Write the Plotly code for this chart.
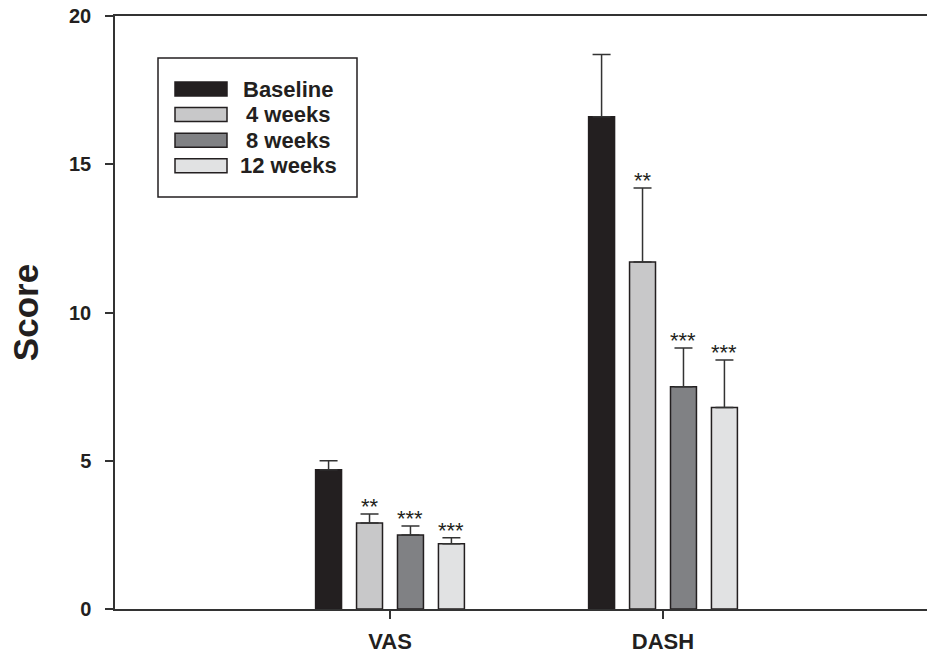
import plotly.graph_objects as go

categories = ["VAS", "DASH"]
series_names = ["Baseline", "4 weeks", "8 weeks", "12 weeks"]
baseline = [4.7, 16.6]
weeks4 = [2.9, 11.7]
weeks8 = [2.5, 7.5]
weeks12 = [2.2, 6.8]
err_baseline = [0.3, 2.1]
err_weeks4 = [0.3, 2.5]
err_weeks8 = [0.3, 1.3]
err_weeks12 = [0.2, 1.6]
signif_weeks4 = ["**", "**"]
signif_weeks8 = ["***", "***"]
signif_weeks12 = ["***", "***"]
y_ticks = [0, 5, 10, 15, 20]

colors = ["#231f20", "#c8c8c9", "#808184", "#e1e2e3"]
edge = "#231f20"
values = [baseline, weeks4, weeks8, weeks12]
errors = [err_baseline, err_weeks4, err_weeks8, err_weeks12]
signifs = [None, signif_weeks4, signif_weeks8, signif_weeks12]
FONT = "Liberation Sans, Arial, Helvetica, sans-serif"

fig = go.Figure()
for name, vals, errs, col in zip(series_names, values, errors, colors):
    fig.add_trace(go.Bar(
        x=categories, y=vals, name=name,
        marker=dict(color=col, line=dict(color=edge, width=1.5)),
        error_y=dict(type="data", array=errs, arrayminus=[0] * len(errs),
                     symmetric=False, color="#333333", thickness=1.5, width=9),
        showlegend=False,
    ))

W, H = 927, 655
ml, mr, mt, mb = 115, 0, 16, 46
x_range = [-1.0073, 1.967]
px_per_unit = (W - ml - mr) / (x_range[1] - x_range[0])
bargap = 0.4
slot = (1 - bargap) / len(series_names)

annotations = []
for i, sig in enumerate(signifs):
    if sig is None:
        continue
    shift = (i - (len(series_names) - 1) / 2) * slot * px_per_unit
    for ci, cat in enumerate(categories):
        annotations.append(dict(
            x=cat, y=values[i][ci] + errors[i][ci], xref="x", yref="y",
            text=sig[ci], showarrow=False, xshift=shift, yshift=-7,
            yanchor="bottom", xanchor="center",
            font=dict(family=FONT, size=22, color="#231f20"),
        ))

# custom legend (box with wide swatches)
shapes = []
lx0, ly0, lx1, ly1 = 158, 58, 357, 197


def px_to_paper_x(px):
    return (px - ml) / (W - ml - mr)


def px_to_paper_y(py):
    return 1 - (py - mt) / (H - mt - mb)


shapes.append(dict(type="rect", xref="paper", yref="paper",
                   x0=px_to_paper_x(lx0), x1=px_to_paper_x(lx1),
                   y0=px_to_paper_y(ly1), y1=px_to_paper_y(ly0),
                   line=dict(color="#231f20", width=1.5), fillcolor="white"))
row_top = 82
row_pitch = 25.6
for i, (name, col) in enumerate(zip(series_names, colors)):
    t = row_top + i * row_pitch
    shapes.append(dict(type="rect", xref="paper", yref="paper",
                       x0=px_to_paper_x(175), x1=px_to_paper_x(227),
                       y0=px_to_paper_y(t + 14), y1=px_to_paper_y(t),
                       line=dict(color=edge, width=1.5), fillcolor=col))
    annotations.append(dict(
        x=px_to_paper_x(288), y=px_to_paper_y(t + 7), xref="paper", yref="paper",
        text=f"<b>{name}</b>", showarrow=False, xanchor="center", yanchor="middle",
        font=dict(family=FONT, size=22, color="#231f20"),
    ))

fig.update_layout(
    width=W, height=H,
    margin=dict(l=ml, r=mr, t=mt, b=mb, pad=0, autoexpand=False),
    paper_bgcolor="white", plot_bgcolor="white",
    barmode="group", bargap=bargap, bargroupgap=0.366,
    shapes=shapes, annotations=annotations,
    font=dict(family=FONT, color="#231f20"),
    xaxis=dict(
        range=x_range, showgrid=False, zeroline=False, automargin=False,
        showline=True, linecolor="#333333", linewidth=1.5, mirror=True,
        ticks="outside", ticklen=8, tickwidth=1.5, tickcolor="#333333",
        tickvals=categories, ticktext=[f"<b>{c}</b>" for c in categories],
        tickfont=dict(size=22, family=FONT, color="#231f20"),
        ticklabelstandoff=4,
    ),
    yaxis=dict(
        range=[0, 20], showgrid=False, zeroline=False, automargin=False,
        showline=True, linecolor="#333333", linewidth=1.5,
        ticks="outside", ticklen=8, tickwidth=1.5, tickcolor="#333333",
        tickvals=y_ticks, ticktext=[f"<b>{v}</b>" for v in y_ticks],
        tickfont=dict(size=20, family=FONT, color="#231f20"),
        ticklabelstandoff=10,
        title=dict(text="<b>Score</b>", standoff=20,
                   font=dict(size=35, family=FONT, color="#231f20")),
    ),
)

fig.write_html(
    "out.html",
    config={"displayModeBar": False},
    post_script="document.body.style.margin='0';document.body.style.overflow='hidden';",
)
